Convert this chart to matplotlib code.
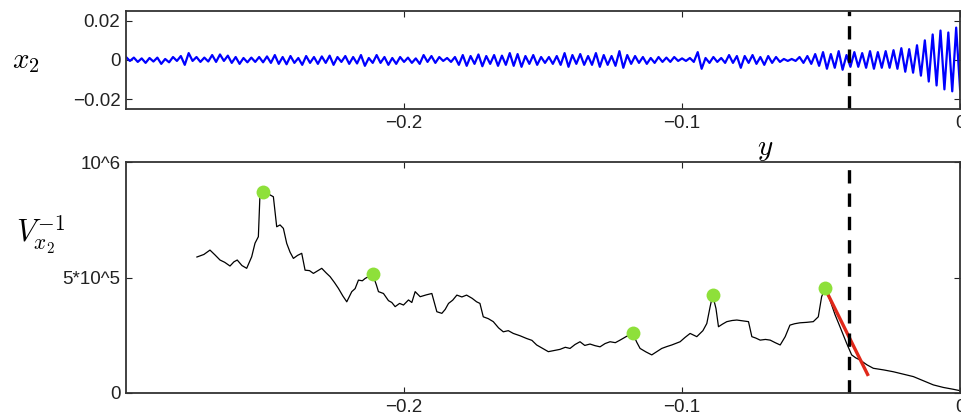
import numpy as np
import matplotlib
matplotlib.use("Agg")
import matplotlib.pyplot as plt

plt.rcParams["font.family"] = ["Liberation Sans", "DejaVu Sans"]
plt.rcParams["mathtext.fontset"] = "cm"

# top panel: x_2 signal, alternating peak / trough values (units of 1e-3)
x2_vals = [
    1.5, -0.5, 1.2, -1.0, 0.8, -1.5, 1.0, -0.8, 1.2, -2.0, 0.5, -1.2, 1.5, -0.5, 2.0, -2.5, 3.5, -0.5,
    1.5, -1.0, 1.2, -0.8, 2.5, -1.0, 2.8, -0.5, 2.2, -1.5, 1.5, -2.0, 1.0, -1.2, 1.2, -1.0, 1.5, -1.2,
    1.8, -1.5, 2.5, -2.0, 1.5, -2.2, 2.0, -1.5, 1.0, -2.5, 2.0, -1.5, 1.5, -2.0, 1.8, -1.5, 2.2, -2.5,
    1.5, -1.0, 2.0, -2.0, 1.5, -1.8, 2.5, -3.0, 1.0, -1.5, 2.5, -1.5, 1.5, -2.5, 1.0, -2.0, 1.5, -1.0,
    1.2, -1.5, 0.8, -2.0, 2.5, -1.0, 2.0, -1.5, 1.5, -0.5, 1.0, -1.0, 1.5, -2.5, 2.5, -3.0, 2.0, -2.0,
    2.8, -3.2, 2.0, -2.0, 2.5, -3.0, 2.2, -2.5, 3.5, -3.0, 3.0, -3.5, 2.0, -2.0, 2.5, -2.5, 1.5, -1.5,
    1.5, -2.0, 2.0, -2.5, 3.5, -3.5, 2.5, -2.0, 3.0, -2.5, 2.0, -2.5, 3.5, -3.5, 2.5, -2.5, 2.0, -3.0,
    4.5, -4.0, 2.5, -2.0, 2.0, -1.5, 1.5, -2.0, 1.0, -1.5, 1.5, -1.0, 1.2, -1.0, 1.5, -0.5, 0.8, -0.5,
    1.0, -1.0, 4.0, -4.5, 1.0, -1.5, 1.5, -1.0, 1.0, -1.5, 2.5, -1.5, 2.0, -4.0, 2.0, -1.5, 2.5, -2.0,
    1.5, -2.5, 2.0, -1.5, 1.5, -1.0, 0.5, -0.5, 0.5, -0.5, 1.5, -1.5, 2.0, -2.0, 3.0, -3.0, 4.0, -4.5,
    3.0, -4.0, 4.5, -5.0, 2.5, -3.5, 4.0, -3.5, 3.5, -4.0, 4.5, -4.5, 4.0, -4.0, 4.5, -4.0, 5.0, -4.5,
    6.0, -6.0, 5.5, -6.5, 7.5, -8.0, 10.0, -11.0, 13.0, -13.0, 15.0, -15.0, 14.0, -16.0, 16.5, -15.0,
]

# bottom panel: inverse variance trace
v_y = [-0.2745, -0.2720, -0.2698, -0.2680, -0.2662, -0.2645, -0.2626, -0.2612, -0.2600, -0.2583,
       -0.2566, -0.2548, -0.2536, -0.2524, -0.2518, -0.2494, -0.2470, -0.2458, -0.2446, -0.2434,
       -0.2422, -0.2410, -0.2398, -0.2383, -0.2368, -0.2356, -0.2340, -0.2326, -0.2310, -0.2296,
       -0.2280, -0.2266, -0.2250, -0.2236, -0.2220, -0.2206, -0.2188, -0.2176, -0.2164, -0.2150,
       -0.2140, -0.2113, -0.2100, -0.2092, -0.2074, -0.2056, -0.2044, -0.2032, -0.2016, -0.2002,
       -0.1984, -0.1972, -0.1960, -0.1942, -0.1920, -0.1900, -0.1882, -0.1864, -0.1852, -0.1840,
       -0.1825, -0.1810, -0.1792, -0.1775, -0.1755, -0.1739, -0.1727, -0.1715, -0.1697, -0.1679,
       -0.1660, -0.1643, -0.1625, -0.1607, -0.1583, -0.1559, -0.1540, -0.1523, -0.1500, -0.1481,
       -0.1460, -0.1439, -0.1420, -0.1403, -0.1385, -0.1367, -0.1350, -0.1331, -0.1313, -0.1295,
       -0.1277, -0.1259, -0.1240, -0.1223, -0.1200, -0.1177, -0.1163, -0.1151, -0.1130, -0.1109,
       -0.1090, -0.1073, -0.1055, -0.1037, -0.1020, -0.1007, -0.0990, -0.0971, -0.0947, -0.0925,
       -0.0911, -0.0899, -0.0890, -0.0878, -0.0869, -0.0855, -0.0839, -0.0820, -0.0803, -0.0780,
       -0.0761, -0.0749, -0.0735, -0.0719, -0.0700, -0.0683, -0.0665, -0.0647, -0.0629, -0.0612,
       -0.0595, -0.0576, -0.0552, -0.0528, -0.0510, -0.0498, -0.0486, -0.0468, -0.0450, -0.0432,
       -0.0408, -0.0390, -0.0375, -0.0360, -0.0335, -0.0312, -0.0275, -0.0240, -0.0205, -0.0168,
       -0.0130, -0.0096, -0.0060, -0.0024, 0.0]
v_vals = [0.589, 0.600, 0.619, 0.598, 0.576, 0.566, 0.550, 0.568, 0.576, 0.552,
          0.540, 0.590, 0.649, 0.677, 0.866, 0.866, 0.850, 0.720, 0.728, 0.713,
          0.648, 0.610, 0.583, 0.596, 0.605, 0.532, 0.530, 0.518, 0.530, 0.540,
          0.520, 0.504, 0.478, 0.453, 0.420, 0.395, 0.439, 0.452, 0.489, 0.486,
          0.496, 0.514, 0.470, 0.439, 0.431, 0.400, 0.392, 0.374, 0.388, 0.381,
          0.403, 0.392, 0.439, 0.417, 0.425, 0.431, 0.352, 0.345, 0.362, 0.388,
          0.402, 0.424, 0.416, 0.424, 0.410, 0.395, 0.388, 0.330, 0.322, 0.309,
          0.282, 0.265, 0.270, 0.258, 0.248, 0.236, 0.228, 0.208, 0.192, 0.179,
          0.184, 0.189, 0.198, 0.193, 0.210, 0.222, 0.206, 0.212, 0.205, 0.200,
          0.214, 0.222, 0.218, 0.229, 0.245, 0.258, 0.220, 0.193, 0.178, 0.165,
          0.180, 0.193, 0.201, 0.208, 0.216, 0.222, 0.240, 0.258, 0.244, 0.270,
          0.301, 0.374, 0.424, 0.366, 0.287, 0.298, 0.309, 0.314, 0.316, 0.312,
          0.309, 0.244, 0.238, 0.229, 0.232, 0.229, 0.218, 0.208, 0.244, 0.294,
          0.300, 0.304, 0.306, 0.309, 0.330, 0.417, 0.453, 0.403, 0.340, 0.287,
          0.215, 0.165, 0.152, 0.143, 0.122, 0.107, 0.100, 0.092, 0.082, 0.071,
          0.052, 0.035, 0.024, 0.016, 0.010]

peak_y = [-0.2506, -0.2113, -0.1177, -0.0890, -0.0486]
peak_v = [0.871, 0.514, 0.258, 0.424, 0.453]

fit_y = [-0.0486, -0.0330]
fit_v = [0.453, 0.074]

y_star = -0.04

fig = plt.figure(figsize=(9.62, 4.2), dpi=100)
ax1 = fig.add_axes([0.131, 0.7405, 0.867, 0.2335])
ax2 = fig.add_axes([0.131, 0.0643, 0.867, 0.5497])

x2_y = np.linspace(-0.3, 0.0, len(x2_vals))
ax1.plot(x2_y, np.array(x2_vals) * 1e-3, color="#0000ff", lw=1.6)
ax1.axvline(y_star, color="black", lw=2.4, ls=(0, (4, 3)))
ax1.set_xlim(-0.3, 0.0)
ax1.set_ylim(-0.025, 0.025)
ax1.set_yticks([-0.02, 0, 0.02])
ax1.set_yticklabels(["\u22120.02", "0", "0.02"])
ax1.set_xticks([-0.2, -0.1, 0])
ax1.set_xticklabels(["\u22120.2", "\u22120.1", "0"])

ax2.plot(v_y, np.array(v_vals) * 1e6, color="black", lw=0.9)
ax2.plot(fit_y, np.array(fit_v) * 1e6, color="#e0281a", lw=2.4, solid_capstyle="butt")
ax2.plot(peak_y, np.array(peak_v) * 1e6, "o", color="#8ee03a", ms=10, mec="none")
ax2.axvline(y_star, color="black", lw=2.4, ls=(0, (4, 3)))
ax2.set_xlim(-0.3, 0.0)
ax2.set_ylim(0, 1e6)
ax2.set_yticks([0, 5e5, 1e6])
ax2.set_yticklabels(["0", "5*10^5", "10^6"])
ax2.set_xticks([-0.2, -0.1, 0])
ax2.set_xticklabels(["\u22120.2", "\u22120.1", "0"])

for ax in (ax1, ax2):
    ax.tick_params(direction="in", top=True, right=True, length=4, width=0.8,
                   labelsize=13.5, colors="#222222", pad=4)
    for s in ax.spines.values():
        s.set_linewidth(1.3)
        s.set_color("#333333")

fig.text(0.027, 0.855, r"$x_2$", fontsize=21, ha="center", va="center")
fig.text(0.042, 0.44, r"$V_{x_2}^{-1}$", fontsize=22, ha="center", va="center")
fig.text(0.795, 0.645, r"$y$", fontsize=21, ha="center", va="center")

fig.savefig("out.png", dpi=100)
